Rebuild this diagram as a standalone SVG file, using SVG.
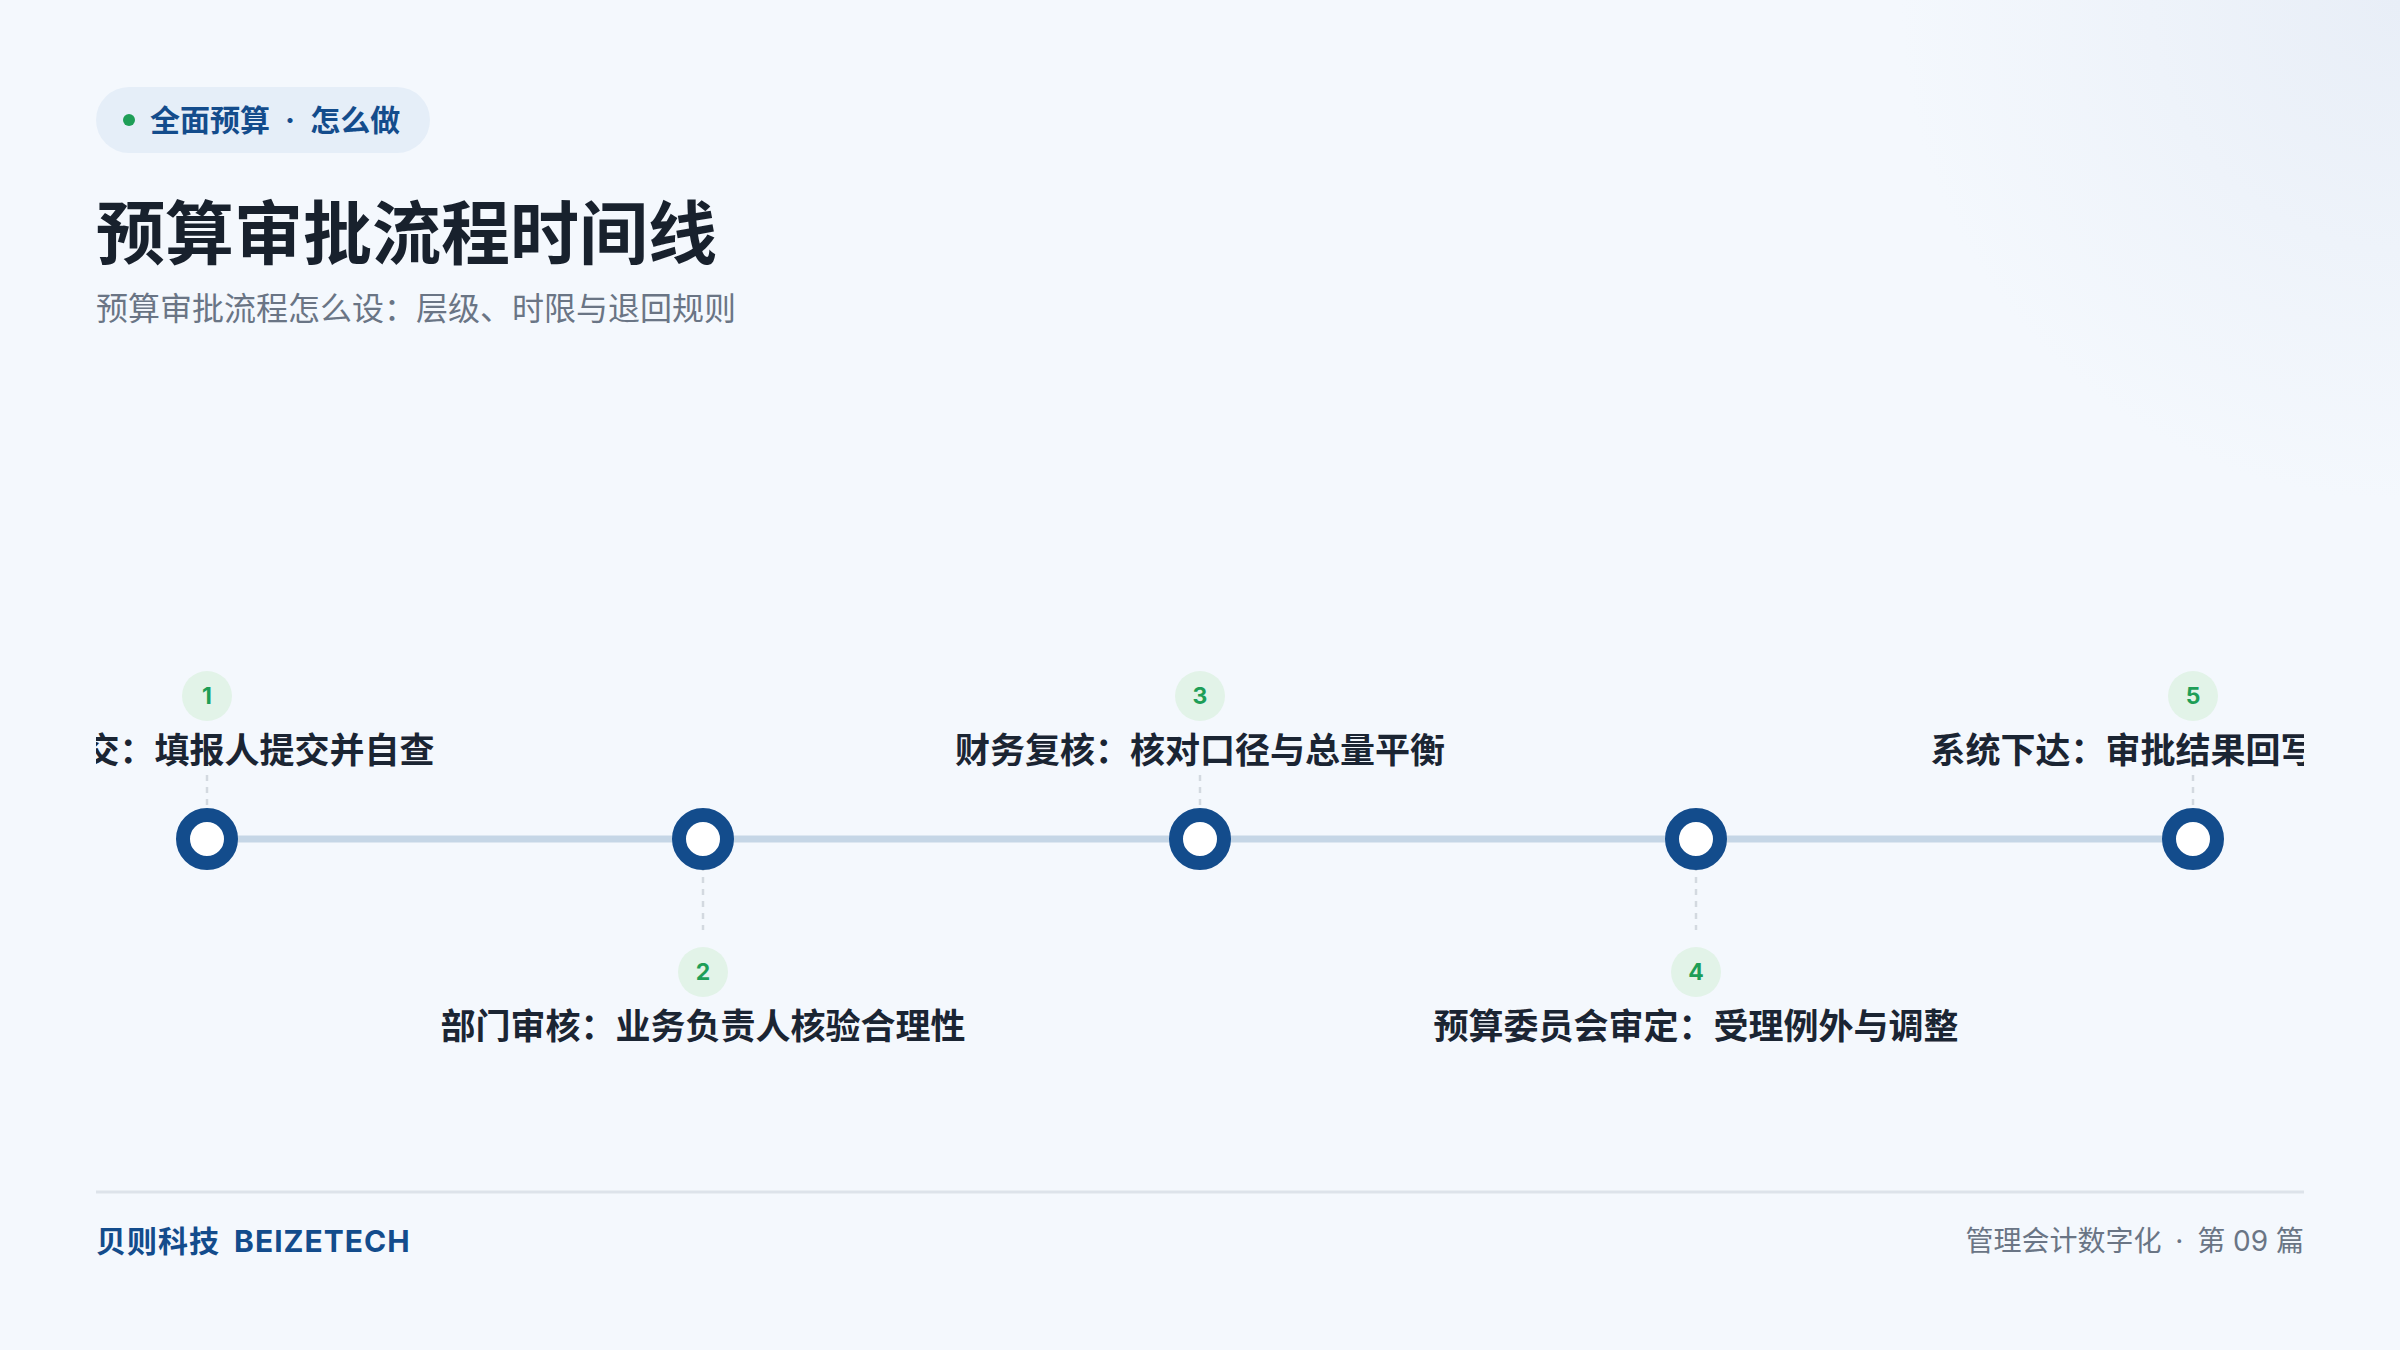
<svg xmlns="http://www.w3.org/2000/svg" width="2400" height="1350" viewBox="0 0 2400 1350">
<defs>
<radialGradient id="bg" cx="2400" cy="0" r="500" gradientUnits="userSpaceOnUse"><stop offset="0" stop-color="#e8eef7"/><stop offset="1" stop-color="#f4f8fd"/></radialGradient>
<clipPath id="clip"><rect x="96" y="0" width="2208" height="1350"/></clipPath>
<style>
text{font-family:Inter,"Noto Sans CJK SC",sans-serif}
.lbl{font-size:35px;font-weight:700;fill:#1b2533;text-anchor:middle;dominant-baseline:central}
.num{font-size:23px;font-weight:700;fill:#1e9e57;text-anchor:middle;dominant-baseline:central}
.badge{fill:#e2f3e8}
.dash{stroke:#d3d9e0;stroke-width:2.5;stroke-dasharray:6 6}
.node{fill:#fff;stroke:#134c8c;stroke-width:14}
</style>
</defs>
<rect width="2400" height="1350" fill="url(#bg)"/>
<g id="header">
<rect x="96" y="87" width="334" height="66" rx="33" fill="#e5eef8"/>
<circle cx="129" cy="120" r="6" fill="#1e9e57"/>
<text x="150" y="120" font-size="30" font-weight="700" fill="#134c8c" dominant-baseline="central" xml:space="preserve">全面预算 <tspan dx="8">·</tspan> <tspan dx="8">怎么做</tspan></text>
<text x="96" y="234" font-size="69" font-weight="700" fill="#18212d" dominant-baseline="central">预算审批流程时间线</text>
<text x="96" y="308" font-size="32" fill="#6a7585" dominant-baseline="central">预算审批流程怎么设：层级、时限与退回规则</text>
</g>
<g id="connectors">
<line x1="207" y1="839" x2="2193" y2="839" stroke="#c5d6e6" stroke-width="7"/>
<line class="dash" x1="207" y1="775" x2="207" y2="815"/>
<line class="dash" x1="1200" y1="775" x2="1200" y2="815"/>
<line class="dash" x1="2193" y1="775" x2="2193" y2="815"/>
<line class="dash" x1="703" y1="865" x2="703" y2="930"/>
<line class="dash" x1="1696" y1="865" x2="1696" y2="930"/>
</g>
<g clip-path="url(#clip)">
<g id="step1"><circle class="badge" cx="207" cy="696" r="25"/><text class="num" x="207" y="696">1</text><text class="lbl" x="207" y="750">编制提交：填报人提交并自查</text><circle class="node" cx="207" cy="839" r="24"/></g>
<g id="step2"><circle class="badge" cx="703" cy="972" r="25"/><text class="num" x="703" y="972">2</text><text class="lbl" x="703" y="1026">部门审核：业务负责人核验合理性</text><circle class="node" cx="703" cy="839" r="24"/></g>
<g id="step3"><circle class="badge" cx="1200" cy="696" r="25"/><text class="num" x="1200" y="696">3</text><text class="lbl" x="1200" y="750">财务复核：核对口径与总量平衡</text><circle class="node" cx="1200" cy="839" r="24"/></g>
<g id="step4"><circle class="badge" cx="1696" cy="972" r="25"/><text class="num" x="1696" y="972">4</text><text class="lbl" x="1696" y="1026">预算委员会审定：受理例外与调整</text><circle class="node" cx="1696" cy="839" r="24"/></g>
<g id="step5"><circle class="badge" cx="2193" cy="696" r="25"/><text class="num" x="2193" y="696">5</text><text class="lbl" x="2193" y="750">系统下达：审批结果回写预算系统</text><circle class="node" cx="2193" cy="839" r="24"/></g>
</g>
<g id="footer">
<line x1="96" y1="1192" x2="2304" y2="1192" stroke="#dde3ea" stroke-width="3"/>
<text x="96" y="1241" font-size="30" font-weight="700" fill="#134c8c" letter-spacing="1" dominant-baseline="central" xml:space="preserve">贝则科技 <tspan dx="6">BEIZETECH</tspan></text>
<text x="2304" y="1241" font-size="28" fill="#6a7585" text-anchor="end" dominant-baseline="central" xml:space="preserve">管理会计数字化 <tspan dx="6">·</tspan> <tspan dx="6">第 09 篇</tspan></text>
</g>
</svg>
